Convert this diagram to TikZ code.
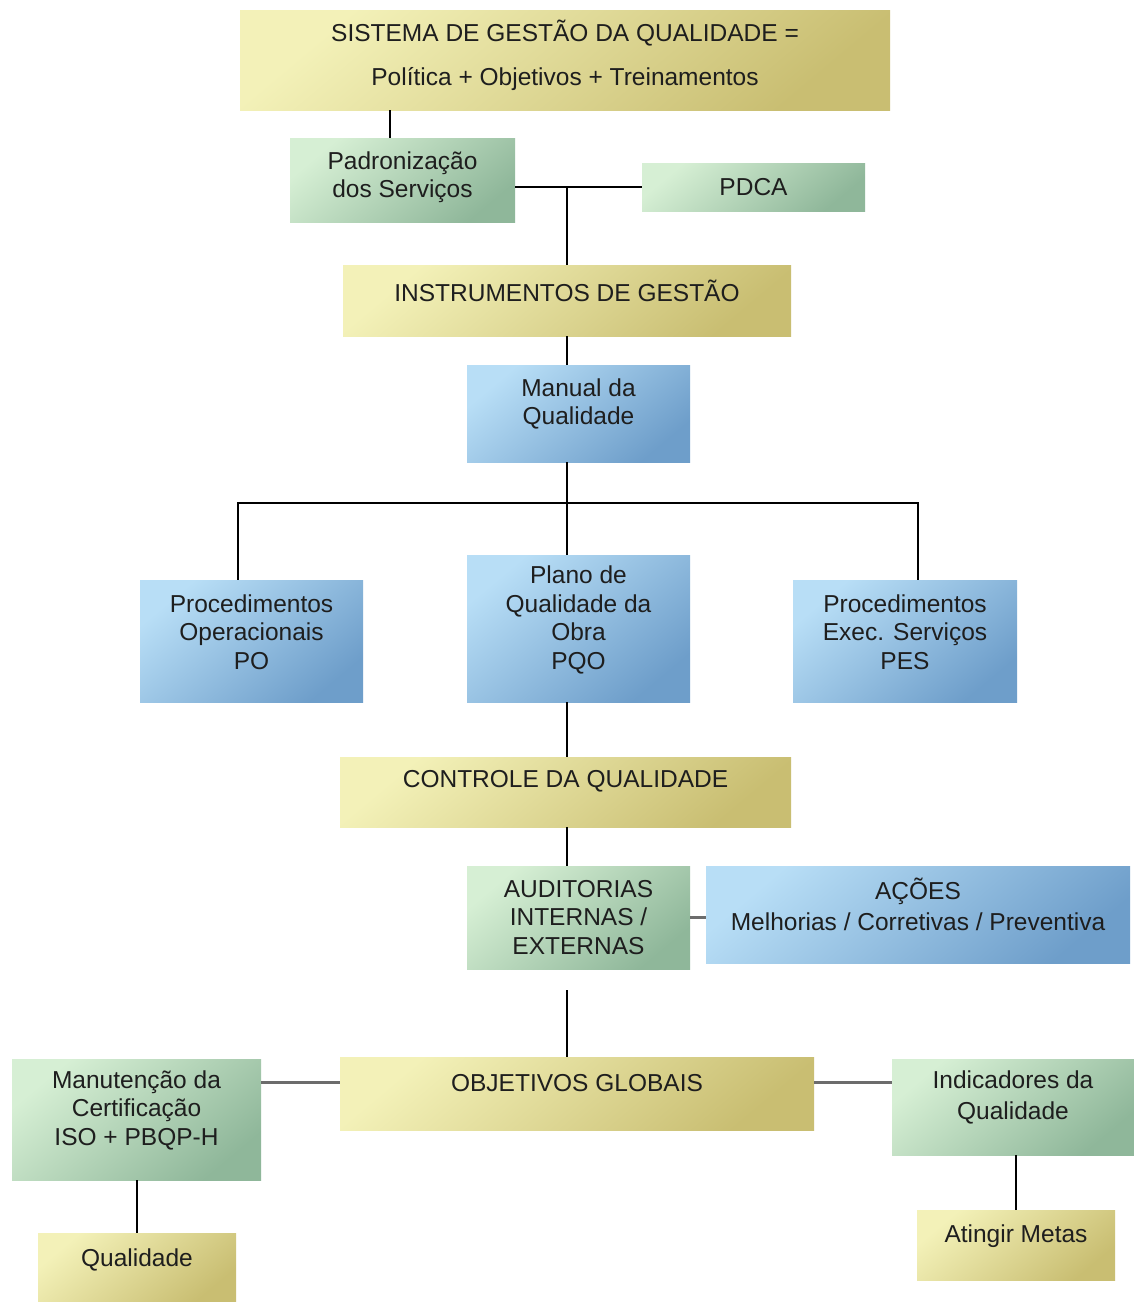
\documentclass[tikz,border=0pt]{standalone}
\usepackage{fontspec}
\setmainfont{Liberation Sans}
\definecolor{yLight}{HTML}{F3F1B8}
\definecolor{yDark}{HTML}{C9BE72}
\definecolor{gLight}{HTML}{D6EFD4}
\definecolor{gDark}{HTML}{8FB79A}
\definecolor{bLight}{HTML}{B8DEF6}
\definecolor{bDark}{HTML}{6E9ECA}
\definecolor{ink}{HTML}{1E1E1E}
\definecolor{grayline}{HTML}{6C6C6C}
\tikzset{
  boxbase/.style={rectangle, draw=none, inner sep=0pt},
  ybox/.style={boxbase, top color=yLight, bottom color=yDark, shading angle=40},
  gbox/.style={boxbase, top color=gLight, bottom color=gDark, shading angle=40},
  bbox/.style={boxbase, top color=bLight, bottom color=bDark, shading angle=40},
  lbl/.style={text=ink, align=center, inner sep=0pt,
    font=\fontsize{24.5}{28.5}\selectfont},
  conn/.style={draw=black, line width=2pt},
  gconn/.style={draw=grayline, line width=3pt},
}
\begin{document}
\begin{tikzpicture}[x=1pt,y=-1pt]
\useasboundingbox (0,0) rectangle (1134,1302);
\fill[white] (0,0) rectangle (1134,1302);

% vertical trunk of the chart and the three-way bus
\coordinate (trunk) at (567,0);
\coordinate (busL) at (238,503);
\coordinate (busR) at (918,503);

% boxes
\node[ybox, minimum width=650pt, minimum height=100pt] (sgq)   at (565,60) {};
\node[gbox, minimum width=225pt, minimum height=84pt]  (pad)   at (402.5,180) {};
\node[gbox, minimum width=223pt, minimum height=48pt]  (pdca)  at (753.5,187) {};
\node[ybox, minimum width=448pt, minimum height=71pt]  (inst)  at (567,300.5) {};
\node[bbox, minimum width=223pt, minimum height=97pt]  (man)   at (578.5,413.5) {};
\node[bbox, minimum width=223pt, minimum height=122pt] (po)    at (251.5,641) {};
\node[bbox, minimum width=223pt, minimum height=147pt] (pqo)   at (578.5,628.5) {};
\node[bbox, minimum width=224pt, minimum height=122pt] (pes)   at (905,641) {};
\node[ybox, minimum width=451pt, minimum height=70pt]  (ctrl)  at (565.5,792) {};
\node[gbox, minimum width=223pt, minimum height=103pt] (aud)   at (578.5,917.5) {};
\node[bbox, minimum width=424pt, minimum height=97pt]  (acoes) at (918,914.5) {};
\node[ybox, minimum width=474pt, minimum height=73pt]  (obj)   at (577,1093.5) {};
\node[gbox, minimum width=249pt, minimum height=121pt] (manut) at (136.5,1119.5) {};
\node[gbox, minimum width=242pt, minimum height=96pt]  (ind)   at (1013,1107) {};
\node[ybox, minimum width=198pt, minimum height=69pt]  (qual)  at (137,1267.5) {};
\node[ybox, minimum width=198pt, minimum height=70pt]  (meta)  at (1016,1245) {};

% texts
\node[lbl, font=\fontsize{24.5}{44}\selectfont] (tsgq) at ([yshift=5pt]sgq.center)
  {SISTEMA DE GESTÃO DA QUALIDADE =\\Política + Objetivos + Treinamentos};
\node[lbl] (tpad)   at ([yshift=3pt]pad.center)    {Padronização\\dos Serviços};
\node[lbl] (tpdca)  at (pdca.center)               {PDCA};
\node[lbl] (tinst)  at ([yshift=9.5pt]inst.center) {INSTRUMENTOS DE GESTÃO};
\node[lbl] (tman)   at ([yshift=9.5pt]man.center)  {Manual da\\Qualidade};
\node[lbl] (tpo)    at ([yshift=9pt]po.center)     {Procedimentos\\Operacionais\\PO};
\node[lbl] (tpqo)   at ([yshift=8.5pt]pqo.center)  {Plano de\\Qualidade da\\Obra\\PQO};
\node[lbl] (tpes)   at ([yshift=9pt]pes.center)    {Procedimentos\\Exec. Serviços\\PES};
\node[lbl] (tctrl)  at ([yshift=11pt]ctrl.center)  {CONTROLE DA QUALIDADE};
\node[lbl] (taud)   at (aud.center)                {AUDITORIAS\\INTERNAS /\\EXTERNAS};
\node[lbl, font=\fontsize{24.5}{31}\selectfont] (tacoes) at ([yshift=10pt]acoes.center)
  {AÇÕES\\Melhorias / Corretivas / Preventiva};
\node[lbl] (tobj)   at ([yshift=10.5pt]obj.center) {OBJETIVOS GLOBAIS};
\node[lbl] (tmanut) at ([yshift=9.5pt]manut.center){Manutenção da\\Certificação\\ISO + PBQP-H};
\node[lbl, font=\fontsize{24.5}{31}\selectfont] (tind) at ([yshift=9.5pt]ind.center)
  {Indicadores da\\Qualidade};
\node[lbl] (tqual)  at ([yshift=7.5pt]qual.center) {Qualidade};
\node[lbl] (tmeta)  at ([yshift=9pt]meta.center)   {Atingir Metas};

% connectors
\draw[conn] ([xshift=-12.5pt]pad.north) -- ([xshift=-12.5pt]pad.north |- sgq.south);
\draw[conn] (pdca.west) -- (pdca.west -| pad.east);
\draw[conn] (pdca.west -| trunk) -- (inst.north -| trunk);
\draw[conn] (inst.south -| trunk) -- (man.north -| trunk);
\draw[conn] (man.south -| trunk) -- (pqo.north -| trunk);
\draw[conn] (po.north -| busL) -- (busL) -- (busR) -- (pes.north -| busR);
\draw[conn] (pqo.south -| trunk) -- (ctrl.north -| trunk);
\draw[conn] (ctrl.south -| trunk) -- (aud.north -| trunk);
\draw[gconn] ([yshift=-3pt]acoes.west) -- ([yshift=-3pt]acoes.west -| aud.east);
\draw[conn, shorten <=21pt] (aud.south -| trunk) -- (obj.north -| trunk);
\draw[gconn] ([yshift=11.5pt]obj.west) -- ([yshift=11.5pt]obj.west -| manut.east);
\draw[gconn] ([yshift=11.5pt]obj.east) -- ([yshift=11.5pt]obj.east -| ind.west);
\draw[conn] (manut.south) -- (manut.south |- qual.north);
\draw[conn] (meta.north) -- (meta.north |- ind.south);
\end{tikzpicture}
\end{document}
